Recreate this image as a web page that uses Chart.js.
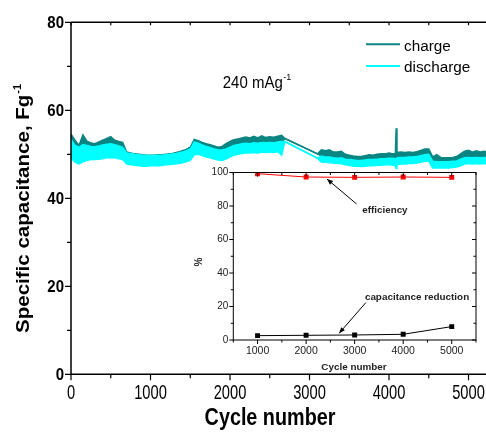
<!DOCTYPE html>
<html><head><meta charset="utf-8">
<script src="https://cdn.jsdelivr.net/npm/chart.js@4"></script>
<style>
html,body{margin:0;padding:0;background:#fff;}
#wrap{position:relative;width:486px;height:432px;overflow:hidden;background:#fff;}
#main{position:absolute;left:0;top:0;}
#inset{position:absolute;left:180px;top:150px;}
</style></head><body>
<div id="wrap"><canvas id="main" width="486" height="432"></canvas><canvas id="inset" width="306" height="224"></canvas></div>
<script>
// ---- main chart data (cycle number vs specific capacitance, band envelopes) ----
const cycles = [0,50,100,150,200,250,300,350,400,450,500,550,600,650,700,750,800,850,900,950,1000,1050,1100,1150,1200,1250,1300,1350,1400,1450,1500,1550,1600,1650,1700,1750,1800,1850,1900,1950,2000,2050,2100,2150,2200,2250,2300,2350,2400,2450,2500,2550,2600,2650,2690,3100,3150,3200,3250,3300,3350,3400,3450,3500,3550,3600,3650,3700,3750,3800,3850,3900,3950,4000,4050,4080,4090,4100,4150,4200,4250,4300,4350,4400,4450,4500,4550,4600,4650,4700,4750,4800,4850,4900,4950,5000,5050,5100,5150,5200,5250];
const chargeHigh = [54.6,53.2,52.0,54.4,53.0,52.6,52.4,52.8,53.2,53.6,54.0,53.2,52.9,52.7,50.5,50.3,50.1,50.0,49.9,49.8,49.8,49.8,49.9,49.9,50.0,50.1,50.3,50.5,50.8,51.1,51.6,53.4,53.1,52.7,52.4,52.2,51.9,51.6,51.8,52.4,52.9,53.3,53.5,53.7,53.9,53.7,54.1,53.7,54.2,53.8,54.0,53.9,54.1,54.3,53.6,50.1,51.0,50.8,51.0,50.5,50.5,50.7,50.0,49.8,49.6,49.5,49.5,49.7,49.9,49.8,50.0,50.1,50.1,50.3,50.1,50.2,55.9,50.4,50.5,50.4,50.5,50.4,50.6,50.9,51.2,51.2,49.4,49.9,49.3,49.2,49.2,49.3,49.5,50.1,50.7,50.9,50.5,50.8,50.5,50.7,50.4];
const chargeLow = [52.3,50.8,50.4,51.6,51.4,51.2,51.0,51.2,51.5,51.8,52.0,51.7,51.4,51.1,49.7,49.5,49.3,49.2,49.1,49.0,49.0,49.0,49.1,49.1,49.2,49.3,49.5,49.7,49.9,50.2,50.5,51.9,51.7,51.3,51.0,50.7,50.5,50.3,50.3,50.8,51.3,51.7,51.9,52.1,52.2,52.1,52.3,52.2,52.4,52.3,52.4,52.4,52.5,52.5,53.6,50.1,49.6,49.5,49.4,49.3,49.2,49.3,49.0,48.9,48.7,48.7,48.6,48.7,48.9,48.9,49.0,49.1,49.1,49.2,49.2,49.2,49.3,49.3,49.4,49.4,49.5,49.5,49.6,49.8,50.0,50.1,48.5,48.5,48.4,48.4,48.4,48.5,48.6,49.0,49.4,49.5,49.4,49.5,49.4,49.5,49.4];
const dischargeHigh = [53.4,52.0,51.6,52.2,52.0,51.8,51.7,51.9,52.1,52.3,52.4,52.2,51.9,51.6,50.3,50.2,50.0,49.9,49.8,49.7,49.7,49.7,49.8,49.8,49.9,50.0,50.1,50.3,50.5,50.8,51.2,52.8,52.5,52.1,51.8,51.5,51.2,51.0,51.0,51.2,51.6,52.0,52.2,52.4,52.5,52.4,52.6,52.5,52.7,52.6,52.7,52.6,52.8,52.9,52.9,49.1,49.6,49.4,49.4,49.2,49.1,49.2,48.9,48.8,48.7,48.6,48.6,48.7,48.8,48.8,48.9,49.0,49.0,49.1,49.1,49.0,49.0,49.2,49.3,49.3,49.4,49.4,49.5,49.7,49.9,50.0,48.4,48.3,48.3,48.3,48.3,48.4,48.5,48.9,49.2,49.3,49.2,49.3,49.2,49.3,49.2];
const dischargeLow = [49.2,48.2,47.8,48.3,48.6,48.8,48.8,48.9,49.0,49.2,49.3,49.2,49.0,48.8,47.8,47.6,47.5,47.4,47.3,47.3,47.4,47.4,47.4,47.5,47.6,47.7,47.8,47.9,48.1,48.3,48.6,49.9,50.0,49.7,49.4,49.2,48.9,48.7,48.6,48.9,49.4,49.8,50.0,50.2,50.3,50.3,50.4,50.3,50.5,50.4,50.5,50.4,50.6,49.8,52.9,49.1,48.2,48.2,48.1,48.0,47.9,47.9,47.6,47.5,47.3,47.3,47.2,47.3,47.4,47.4,47.5,47.5,47.6,47.6,47.5,47.4,46.8,47.6,47.8,47.8,47.9,47.9,48.0,48.2,48.4,48.4,46.9,46.9,46.9,46.9,46.9,47.0,47.1,47.4,47.8,47.9,47.8,47.9,47.8,47.9,47.8];
const xTicks = [0,1000,2000,3000,4000,5000];
const xMinorTicks = [500,1500,2500,3500,4500];
const yTicks = [0,20,40,60,80];
const yMinorTicks = [10,30,50,70];

// ---- inset data ----
const insetCycles = [1000,2000,3000,4000,5000];
const efficiency = [99.3,97.3,97.1,97.3,97.1];
const capReduction = [2.6,2.8,3.0,3.4,8.0];
const insetXTicks = [1000,2000,3000,4000,5000];
const insetXMinor = [500,1500,2500,3500,4500,5500];
const insetYTicks = [0,20,40,60,80,100];
const insetYMinor = [10,30,50,70,90];

const FF = '"Liberation Sans", Arial, sans-serif';
const TEAL = '#0b8582', CYAN = '#00ffff';

function T(ctx, s, x, y, o){
  ctx.save(); ctx.translate(x,y); if(o.rot) ctx.rotate(o.rot); ctx.scale(o.sx||1, o.sy||1);
  ctx.font = o.font; ctx.textAlign = o.align||'left'; ctx.textBaseline = o.base||'alphabetic';
  ctx.fillStyle = o.color||'#000'; ctx.fillText(s,0,0);
  const w = ctx.measureText(s).width; ctx.restore(); return w;
}
const pts = (xs, ys) => xs.map((x,i)=>({x:x, y:ys[i]}));

const mainDecor = {
  id:'mainDecor',
  afterDraw(chart){
    const ctx = chart.ctx, ca = chart.chartArea, xs = chart.scales.x, ys = chart.scales.y;
    ctx.save();
    ctx.strokeStyle = '#000'; ctx.lineWidth = 1.5;
    ctx.beginPath();
    ctx.moveTo(ca.left, ca.top); ctx.lineTo(ca.left, ca.bottom); ctx.lineTo(ca.right, ca.bottom);
    ctx.moveTo(ca.left, ca.top); ctx.lineTo(ca.right, ca.top);
    ctx.stroke();
    ctx.lineWidth = 1.2;
    ctx.beginPath();
    yTicks.forEach(v=>{const p=ys.getPixelForValue(v); ctx.moveTo(ca.left,p); ctx.lineTo(ca.left-6,p);});
    yMinorTicks.forEach(v=>{const p=ys.getPixelForValue(v); ctx.moveTo(ca.left,p); ctx.lineTo(ca.left-4,p);});
    xTicks.forEach(v=>{const p=xs.getPixelForValue(v); ctx.moveTo(p,ca.bottom); ctx.lineTo(p,ca.bottom+6);});
    xMinorTicks.forEach(v=>{const p=xs.getPixelForValue(v); ctx.moveTo(p,ca.bottom); ctx.lineTo(p,ca.bottom+4);});
    xTicks.concat(xMinorTicks).forEach(v=>{const p=xs.getPixelForValue(v); ctx.moveTo(p,ca.top); ctx.lineTo(p,ca.top+3);});
    ctx.stroke();
    yTicks.forEach(v=>T(ctx, String(v), ca.left-7, ys.getPixelForValue(v)+0.5, {font:'bold 15px '+FF, align:'right', base:'middle', sy:1.15}));
    xTicks.forEach(v=>T(ctx, String(v), xs.getPixelForValue(v), ca.bottom+25, {font:'14.7px '+FF, align:'center', sy:1.33}));
    // axis titles
    T(ctx, 'Cycle number', 270, 425, {font:'bold 19.8px '+FF, align:'center', sy:1.2});
    const w = T(ctx, 'Specific capacitance, Fg', 29, 333, {font:'bold 19px '+FF, rot:-Math.PI/2, sx:1.08});
    T(ctx, '-1', 21, 333 - w*1.08 - 1, {font:'bold 11px '+FF, rot:-Math.PI/2});
    // current density label
    const w2 = T(ctx, '240 mAg', 222.7, 88.3, {font:'15px '+FF, sy:1.15});
    T(ctx, '-1', 222.7 + w2 + 0.5, 80, {font:'9px '+FF});
    // legend
    ctx.lineWidth = 2;
    ctx.strokeStyle = TEAL; ctx.beginPath(); ctx.moveTo(366,44.3); ctx.lineTo(400,44.3); ctx.stroke();
    ctx.strokeStyle = CYAN; ctx.beginPath(); ctx.moveTo(366,66); ctx.lineTo(400,66); ctx.stroke();
    T(ctx, 'charge', 404, 50.5, {font:'15.3px '+FF});
    T(ctx, 'discharge', 404, 72, {font:'15.3px '+FF});
    ctx.restore();
  }
};

new Chart(document.getElementById('main'), {
  type:'line',
  data:{datasets:[
    {label:'discharge', data:pts(cycles,dischargeHigh), borderColor:CYAN, backgroundColor:CYAN, borderWidth:1.5, pointRadius:0, fill:'+1', tension:0},
    {label:'discharge low', data:pts(cycles,dischargeLow), borderColor:CYAN, borderWidth:1.5, pointRadius:0, fill:false, tension:0},
    {label:'charge', data:pts(cycles,chargeHigh), borderColor:TEAL, backgroundColor:TEAL, borderWidth:1.5, pointRadius:0, fill:'+1', tension:0},
    {label:'charge low', data:pts(cycles,chargeLow), borderColor:TEAL, borderWidth:1.5, pointRadius:0, fill:false, tension:0}
  ]},
  options:{
    responsive:false, animation:false, devicePixelRatio:1,
    layout:{padding:{left:71, top:22.3, right:0, bottom:57.7}},
    plugins:{legend:{display:false}, tooltip:{enabled:false}},
    scales:{
      x:{type:'linear', min:0, max:5220, display:false},
      y:{type:'linear', min:0, max:80, display:false}
    }
  },
  plugins:[mainDecor]
});

function arrow(ctx,x1,y1,x2,y2){
  ctx.beginPath(); ctx.moveTo(x1,y1); ctx.lineTo(x2,y2); ctx.stroke();
  const a=Math.atan2(y2-y1,x2-x1), h=6, w=2.4;
  ctx.beginPath(); ctx.moveTo(x2,y2);
  ctx.lineTo(x2-h*Math.cos(a)+w*Math.sin(a), y2-h*Math.sin(a)-w*Math.cos(a));
  ctx.lineTo(x2-h*Math.cos(a)-w*Math.sin(a), y2-h*Math.sin(a)+w*Math.cos(a));
  ctx.closePath(); ctx.fill();
}

const insetDecor = {
  id:'insetDecor',
  afterDraw(chart){
    const ctx = chart.ctx, ca = chart.chartArea, xs = chart.scales.x, ys = chart.scales.y;
    ctx.save();
    ctx.strokeStyle='#000'; ctx.fillStyle='#000'; ctx.lineWidth=1;
    ctx.strokeRect(ca.left, ca.top, ca.right-ca.left, ca.bottom-ca.top);
    ctx.beginPath();
    insetYTicks.forEach(v=>{const p=ys.getPixelForValue(v); ctx.moveTo(ca.left,p); ctx.lineTo(ca.left-4,p); ctx.moveTo(ca.right,p); ctx.lineTo(ca.right-4,p);});
    insetYMinor.forEach(v=>{const p=ys.getPixelForValue(v); ctx.moveTo(ca.left,p); ctx.lineTo(ca.left-2.5,p); ctx.moveTo(ca.right,p); ctx.lineTo(ca.right-2.5,p);});
    insetXTicks.forEach(v=>{const p=xs.getPixelForValue(v); ctx.moveTo(p,ca.bottom); ctx.lineTo(p,ca.bottom+4); ctx.moveTo(p,ca.top); ctx.lineTo(p,ca.top+4);});
    insetXMinor.forEach(v=>{const p=xs.getPixelForValue(v); ctx.moveTo(p,ca.bottom); ctx.lineTo(p,ca.bottom+2.5); ctx.moveTo(p,ca.top); ctx.lineTo(p,ca.top+2.5);});
    ctx.stroke();
    insetYTicks.forEach(v=>T(ctx, String(v), ca.left-5, ys.getPixelForValue(v), {font:'10px '+FF, align:'right', base:'middle', color:'#222', sy:1.05}));
    insetXTicks.forEach(v=>T(ctx, String(v), xs.getPixelForValue(v), ca.bottom+14, {font:'10.5px '+FF, align:'center', color:'#222'}));
    T(ctx, 'Cycle number', (ca.left+ca.right)/2 - 0.7, ca.bottom+30, {font:'bold 9.9px '+FF, align:'center', color:'#222'});
    T(ctx, '%', 19, 112, {font:'bold 10px '+FF, align:'center', base:'middle', rot:-Math.PI/2, color:'#222'});
    T(ctx, 'efficiency', xs.getPixelForValue(3624), ys.getPixelForValue(77.2), {font:'bold 9.8px '+FF, align:'center', base:'middle', color:'#222'});
    T(ctx, 'capacitance reduction', xs.getPixelForValue(4285), ys.getPixelForValue(25.7), {font:'bold 9.9px '+FF, align:'center', base:'middle', color:'#222'});
    arrow(ctx, xs.getPixelForValue(3040), ys.getPixelForValue(81.2), xs.getPixelForValue(2430), ys.getPixelForValue(96.1));
    arrow(ctx, xs.getPixelForValue(3230), ys.getPixelForValue(22.3), xs.getPixelForValue(2680), ys.getPixelForValue(4.0));
    ctx.restore();
  }
};

new Chart(document.getElementById('inset'), {
  type:'line',
  data:{datasets:[
    {label:'efficiency', data:pts(insetCycles,efficiency), borderColor:'#ff0000', backgroundColor:'#ff0000', borderWidth:1, pointStyle:'rect', pointRadius:3.5, pointBorderWidth:0, tension:0},
    {label:'capacitance reduction', data:pts(insetCycles,capReduction), borderColor:'#000', backgroundColor:'#000', borderWidth:1, pointStyle:'rect', pointRadius:3.5, pointBorderWidth:0, tension:0}
  ]},
  options:{
    responsive:false, animation:false, devicePixelRatio:1,
    layout:{padding:{left:53.3, top:22.5, right:10, bottom:34}},
    plugins:{legend:{display:false}, tooltip:{enabled:false}},
    scales:{
      x:{type:'linear', min:500, max:5500, display:false},
      y:{type:'linear', min:0, max:100, display:false}
    }
  },
  plugins:[insetDecor]
});
</script>
</body></html>
